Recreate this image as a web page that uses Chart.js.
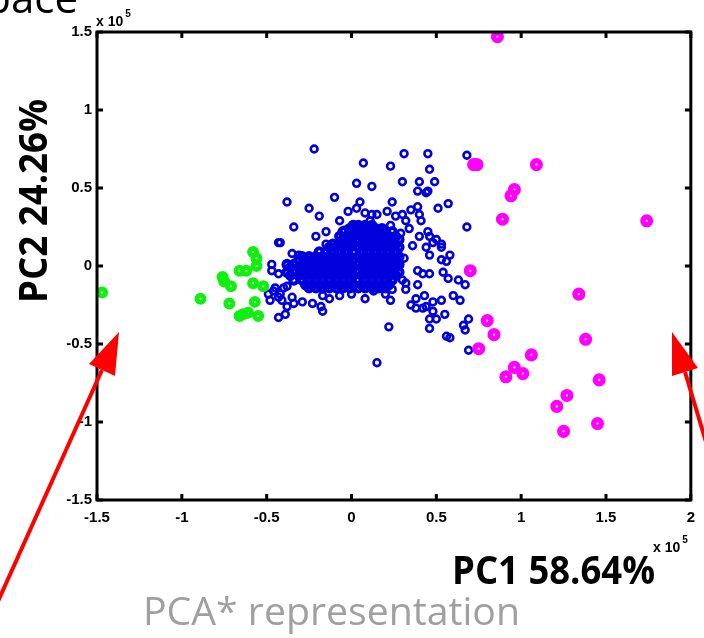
<!DOCTYPE html>
<html>
<head>
<meta charset="utf-8">
<script src="https://cdn.jsdelivr.net/npm/chart.js@4.4.1/dist/chart.umd.min.js"></script>
<style>
  html, body { margin: 0; padding: 0; background: #fff; }
  canvas { display: block; }
</style>
</head>
<body>
<canvas id="pca" width="704" height="638"></canvas>
<script>
// values in units of 1e5
const xTicks = [-1.5, -1, -0.5, 0, 0.5, 1, 1.5, 2];
const yTicks = [-1.5, -1, -0.5, 0, 0.5, 1, 1.5];

const magentaPoints = [
  [0.86, 1.47], [0.72, 0.65], [0.74, 0.65], [1.09, 0.65], [0.96, 0.49], [0.94, 0.45],
  [0.89, 0.30], [1.74, 0.29], [0.70, -0.03], [1.34, -0.18], [0.80, -0.35], [0.84, -0.44],
  [1.38, -0.47], [0.75, -0.53], [1.06, -0.57], [0.96, -0.65], [0.91, -0.71], [1.01, -0.69],
  [1.46, -0.73], [1.27, -0.83], [1.21, -0.90], [1.45, -1.01], [1.25, -1.06]
];

const greenPoints = [
  [-1.47, -0.17], [-0.89, -0.21], [-0.58, 0.09], [-0.56, 0.05], [-0.56, 0.00], [-0.66, -0.03],
  [-0.62, -0.03], [-0.76, -0.07], [-0.75, -0.10], [-0.71, -0.13], [-0.58, -0.11], [-0.52, -0.13],
  [-0.72, -0.24], [-0.57, -0.23], [-0.64, -0.31], [-0.61, -0.30], [-0.66, -0.32], [-0.55, -0.32]
];

// scattered blue points around the dense core
const bluePoints = [
  [-0.22, 0.75], [0.31, 0.72], [0.45, 0.72], [0.68, 0.71], [0.07, 0.66], [0.23, 0.64], [0.46, 0.62],
  [0.03, 0.53], [0.12, 0.51], [0.30, 0.54], [0.40, 0.54], [0.49, 0.54], [0.39, 0.48], [0.45, 0.48],
  [0.44, 0.47], [-0.38, 0.41], [-0.10, 0.44], [-0.25, 0.37], [-0.19, 0.32], [0.05, 0.41], [0.24, 0.41],
  [0.39, 0.38], [0.35, 0.36], [0.51, 0.37], [0.57, 0.40], [-0.07, 0.29], [-0.34, 0.25], [0.68, 0.25],
  [-0.43, 0.15], [-0.21, 0.19], [-0.15, 0.22], [-0.02, 0.35], [0.03, 0.37], [0.08, 0.34], [0.12, 0.33],
  [0.15, 0.33], [0.21, 0.35], [0.26, 0.32], [0.30, 0.33], [0.32, 0.29], [0.41, 0.29], [0.40, 0.33],
  [0.11, 0.29], [0.23, 0.26], [-0.04, 0.23], [0.34, 0.24], [0.45, 0.22], [0.50, 0.17], [0.53, 0.14],
  [0.46, 0.19], [0.29, 0.21], [0.40, 0.19], [-0.15, 0.14], [-0.07, 0.13], [0.03, 0.26], [0.01, 0.18],
  [-0.42, 0.15], [-0.35, 0.08], [-0.31, 0.07], [-0.47, 0.01], [-0.47, -0.03], [-0.43, -0.05],
  [-0.36, -0.01], [-0.48, -0.22], [-0.43, -0.33], [-0.39, -0.31], [-0.34, -0.24], [-0.38, -0.26],
  [-0.23, -0.24], [-0.18, -0.26], [-0.17, -0.29], [-0.13, -0.21], [-0.17, -0.19], [0.00, -0.18],
  [0.08, -0.21], [0.22, -0.39], [0.15, -0.62], [0.23, -0.22], [0.32, -0.15], [0.39, -0.12],
  [0.35, -0.25], [0.42, -0.27], [0.48, -0.29], [0.46, -0.34], [0.50, -0.34], [0.46, -0.40],
  [0.55, -0.31], [0.53, -0.22], [0.60, -0.19], [0.64, -0.22], [0.63, -0.09], [0.67, -0.12],
  [0.57, -0.08], [0.54, -0.04], [0.39, -0.03], [0.42, -0.05], [0.46, -0.05], [0.69, -0.34],
  [0.66, -0.38], [0.67, -0.41], [0.56, -0.45], [0.58, -0.46], [0.69, -0.54], [0.58, 0.07],
  [0.53, 0.04], [0.48, 0.15], [0.53, 0.12], [0.46, 0.07], [0.44, 0.12], [0.36, 0.13], [0.31, 0.05],
  [0.27, 0.00], [0.30, -0.09], [0.32, -0.11], [0.24, -0.15], [0.38, -0.21], [0.43, -0.19],
  [0.48, -0.23], [0.38, -0.27], [0.44, -0.26], [-0.42, -0.18], [-0.45, -0.14], [-0.49, -0.18],
  [-0.38, -0.13], [-0.07, -0.19], [0.13, -0.16], [0.16, -0.13], [0.20, -0.18], [-0.29, -0.23],
  [-0.35, -0.20], [-0.43, -0.20], [-0.40, -0.14], [-0.41, -0.22], [-0.46, -0.16], [0.56, 0.03]
];

// dense blue core, row by row: [y, [x...]]
const blueCoreRows = [
  [0.26, [0.01, 0.04, 0.08, 0.12]],
  [0.24, [-0.01, 0.03, 0.06, 0.10, 0.14, 0.18]],
  [0.22, [-0.05, -0.01, 0.04, 0.08, 0.12, 0.16, 0.20, 0.24]],
  [0.19, [-0.07, -0.03, 0.01, 0.06, 0.10, 0.14, 0.18, 0.22, 0.26]],
  [0.17, [-0.05, -0.01, 0.04, 0.08, 0.12, 0.16, 0.20, 0.24, 0.28]],
  [0.14, [-0.11, -0.07, -0.03, 0.01, 0.06, 0.10, 0.14, 0.18, 0.22, 0.26]],
  [0.12, [-0.13, -0.09, -0.05, -0.01, 0.04, 0.08, 0.12, 0.16, 0.20, 0.24, 0.28]],
  [0.09, [-0.19, -0.15, -0.11, -0.07, -0.03, 0.01, 0.06, 0.10, 0.14, 0.18, 0.22, 0.26]],
  [0.06, [-0.29, -0.25, -0.21, -0.17, -0.13, -0.09, -0.05, -0.01, 0.04, 0.08, 0.12, 0.16, 0.20, 0.24, 0.28]],
  [0.04, [-0.31, -0.27, -0.23, -0.19, -0.15, -0.11, -0.07, -0.03, 0.01, 0.06, 0.10, 0.14, 0.18, 0.22, 0.26]],
  [0.01, [-0.38, -0.34, -0.29, -0.25, -0.21, -0.17, -0.13, -0.09, -0.05, -0.01, 0.04, 0.08, 0.12, 0.16, 0.20, 0.24, 0.28]],
  [-0.01, [-0.36, -0.31, -0.27, -0.23, -0.19, -0.15, -0.11, -0.07, -0.03, 0.01, 0.06, 0.10, 0.14, 0.18, 0.22, 0.26]],
  [-0.04, [-0.38, -0.34, -0.29, -0.25, -0.21, -0.17, -0.13, -0.09, -0.05, -0.01, 0.04, 0.08, 0.12, 0.16, 0.20, 0.24, 0.28]],
  [-0.06, [-0.36, -0.31, -0.27, -0.23, -0.19, -0.15, -0.11, -0.07, -0.03, 0.01, 0.06, 0.10, 0.14, 0.18, 0.22, 0.26]],
  [-0.09, [-0.34, -0.29, -0.25, -0.21, -0.17, -0.13, -0.09, -0.05, -0.01, 0.04, 0.08, 0.12, 0.16, 0.20, 0.24]],
  [-0.12, [-0.27, -0.23, -0.19, -0.15, -0.11, -0.07, -0.03, 0.01, 0.06, 0.10, 0.14, 0.18, 0.22]],
  [-0.14, [-0.25, -0.21, -0.17, -0.13, -0.09, -0.05, -0.01, 0.04, 0.08, 0.12, 0.16, 0.20]]
];

const toXY = (p) => ({ x: p[0], y: p[1] });
const blueCore = [];
blueCoreRows.forEach(([y, xs]) => xs.forEach((x) => blueCore.push({ x, y })));

function fitText(ctx, text, x, y, width) {
  const w = ctx.measureText(text).width;
  ctx.save();
  ctx.translate(x, y);
  ctx.scale(width / w, 1);
  ctx.fillText(text, 0, 0);
  ctx.restore();
}

function drawTimes10(ctx, x, y) {
  ctx.font = 'bold 14px "Liberation Sans"';
  ctx.textAlign = 'left';
  ctx.textBaseline = 'alphabetic';
  ctx.fillText('x 10', x, y);
  const w = ctx.measureText('x 10').width;
  ctx.font = 'bold 10px "Liberation Sans"';
  ctx.fillText('5', x + w + 2, y - 9);
}

function arrow(ctx, x0, y0, x1, y1, tri) {
  ctx.strokeStyle = '#ff0000';
  ctx.fillStyle = '#ff0000';
  ctx.lineWidth = 4;
  ctx.beginPath();
  ctx.moveTo(x0, y0);
  ctx.lineTo(x1, y1);
  ctx.stroke();
  ctx.beginPath();
  ctx.moveTo(tri[0][0], tri[0][1]);
  ctx.lineTo(tri[1][0], tri[1][1]);
  ctx.lineTo(tri[2][0], tri[2][1]);
  ctx.closePath();
  ctx.fill();
}

const decor = {
  id: 'decor',
  afterDraw(chart) {
    const { ctx, chartArea: a, scales: { x, y } } = chart;
    ctx.save();
    // frame with inward ticks on all sides
    ctx.strokeStyle = '#000';
    ctx.lineWidth = 3;
    ctx.strokeRect(a.left, a.top, a.right - a.left, a.bottom - a.top);
    ctx.beginPath();
    xTicks.forEach((v) => {
      const px = x.getPixelForValue(v);
      ctx.moveTo(px, a.bottom); ctx.lineTo(px, a.bottom - 6);
      ctx.moveTo(px, a.top); ctx.lineTo(px, a.top + 6);
    });
    yTicks.forEach((v) => {
      const py = y.getPixelForValue(v);
      ctx.moveTo(a.left, py); ctx.lineTo(a.left + 6, py);
      ctx.moveTo(a.right, py); ctx.lineTo(a.right - 6, py);
    });
    ctx.stroke();

    ctx.fillStyle = '#000';
    drawTimes10(ctx, a.left - 1, 26);
    drawTimes10(ctx, 653, 552);

    // clipped title remnant at the top
    ctx.font = '42px "Open Sans"';
    ctx.textAlign = 'right';
    ctx.textBaseline = 'alphabetic';
    ctx.fillText('Space', 78, 13);

    // axis titles
    ctx.textAlign = 'left';
    ctx.font = 'bold 39px "Open Sans"';
    fitText(ctx, 'PC1 58.64%', 452, 584, 203);
    ctx.save();
    ctx.translate(47, 303);
    ctx.rotate(-Math.PI / 2);
    fitText(ctx, 'PC2 24.26%', 0, 0, 204);
    ctx.restore();

    ctx.fillStyle = '#a0a0a0';
    ctx.font = '39px "Open Sans"';
    fitText(ctx, 'PCA* representation', 143, 625, 377);

    // red arrows
    arrow(ctx, -5, 608, 102, 370, [[119, 332], [89, 364], [115, 376]]);
    arrow(ctx, 712, 462, 685, 372, [[672, 332], [672, 376], [698, 368]]);
    ctx.restore();
  }
};

const tickFont = { family: 'Liberation Sans', weight: 'bold', size: 15 };

new Chart(document.getElementById('pca'), {
  type: 'scatter',
  data: {
    datasets: [
      {
        data: magentaPoints.map(toXY),
        borderColor: '#ff00ff',
        backgroundColor: 'rgba(0,0,0,0)',
        pointRadius: 3.8,
        borderWidth: 5.5
      },
      {
        data: greenPoints.map(toXY),
        borderColor: '#11ee11',
        backgroundColor: 'rgba(0,0,0,0)',
        pointRadius: 3.5,
        borderWidth: 5
      },
      {
        data: bluePoints.map(toXY),
        borderColor: '#0000dd',
        backgroundColor: 'rgba(0,0,0,0)',
        pointRadius: 3.4,
        borderWidth: 2.6
      },
      {
        data: blueCore,
        borderColor: '#0000dd',
        backgroundColor: 'rgba(0,0,0,0)',
        pointRadius: 3.6,
        borderWidth: 4
      }
    ]
  },
  options: {
    responsive: false,
    animation: false,
    events: [],
    layout: { padding: { top: 32, right: 12, left: 0, bottom: 0 } },
    plugins: { legend: { display: false }, tooltip: { enabled: false } },
    scales: {
      x: {
        type: 'linear',
        min: -1.5,
        max: 2,
        afterBuildTicks: (s) => { s.ticks = xTicks.map((v) => ({ value: v })); },
        afterFit: (s) => { s.height = 138; },
        grid: { display: false, drawTicks: false },
        border: { display: false },
        ticks: {
          autoSkip: false,
          maxRotation: 0,
          padding: 9,
          color: '#000',
          font: tickFont,
          callback: (v) => String(v)
        }
      },
      y: {
        type: 'linear',
        min: -1.5,
        max: 1.5,
        afterBuildTicks: (s) => { s.ticks = yTicks.map((v) => ({ value: v })); },
        afterFit: (s) => { s.width = 97; },
        grid: { display: false, drawTicks: false },
        border: { display: false },
        ticks: {
          autoSkip: false,
          padding: 5,
          color: '#000',
          font: tickFont,
          callback: (v) => String(v)
        }
      }
    }
  },
  plugins: [decor]
});
</script>
</body>
</html>
